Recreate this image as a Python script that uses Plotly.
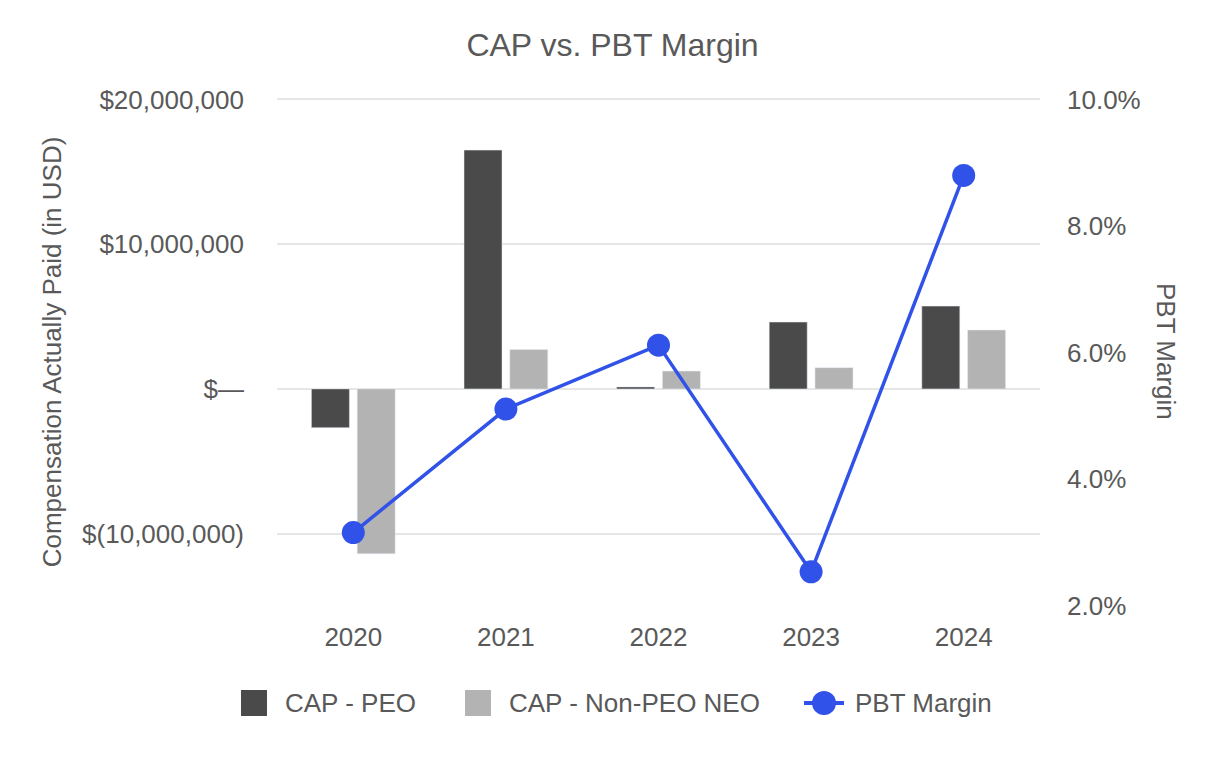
import plotly.graph_objects as go

years = ["2020", "2021", "2022", "2023", "2024"]
cap_peo = [-2.68e6, 16.5e6, 0.14e6, 4.62e6, 5.72e6]
cap_non_peo = [-11.39e6, 2.72e6, 1.23e6, 1.47e6, 4.07e6]
pbt_margin = [3.16, 5.11, 6.12, 2.54, 8.8]

left_tickvals = [-10e6, 0, 10e6, 20e6]
left_ticktext = ["$(10,000,000)", "$\u2014", "$10,000,000", "$20,000,000"]
right_tickvals = [2, 4, 6, 8, 10]
right_ticktext = ["2.0%", "4.0%", "6.0%", "8.0%", "10.0%"]

series_names = ["CAP - PEO", "CAP - Non-PEO NEO", "PBT Margin"]
colors = ["#4a4a4a", "#b3b3b3", "#3152e8"]

FONT = "Liberation Sans, Arial, sans-serif"
TXT = "#595959"

W, H = 1218, 752
ML, MR, MT, MB = 269, 186, 90, 154
PW, PH = W - ML - MR, H - MT - MB


def px(x):
    return (x - ML) / PW


def py(y):
    return 1 - (y - MT) / PH


fig = go.Figure()
fig.add_trace(go.Bar(x=years, y=cap_peo, name=series_names[0], marker_color=colors[0],
                     showlegend=False))
fig.add_trace(go.Bar(x=years, y=cap_non_peo, name=series_names[1], marker_color=colors[1],
                     showlegend=False))
fig.add_trace(go.Scatter(x=years, y=pbt_margin, name=series_names[2], yaxis="y2",
                         mode="lines+markers", showlegend=False,
                         line=dict(color=colors[2], width=3.5),
                         marker=dict(color=colors[2], size=23)))

# custom legend (larger swatches than plotly's native legend allows)
ly = 695
shapes = [
    dict(type="rect", xref="paper", yref="paper", x0=px(233), x1=px(259),
         y0=py(ly + 13), y1=py(ly - 13), fillcolor=colors[0], line=dict(width=0)),
    dict(type="rect", xref="paper", yref="paper", x0=px(457), x1=px(483),
         y0=py(ly + 13), y1=py(ly - 13), fillcolor=colors[1], line=dict(width=0)),
    dict(type="line", xref="paper", yref="paper", x0=px(796), x1=px(836),
         y0=py(ly), y1=py(ly), line=dict(color=colors[2], width=4)),
    dict(type="circle", xref="paper", yref="paper", x0=px(804), x1=px(828),
         y0=py(ly + 12), y1=py(ly - 12), fillcolor=colors[2], line=dict(width=0)),
]
annotations = [
    dict(text=series_names[0], x=px(275), y=py(ly), xref="paper", yref="paper",
         xanchor="left", yanchor="middle", showarrow=False, font=dict(size=26, color=TXT)),
    dict(text=series_names[1], x=px(499), y=py(ly), xref="paper", yref="paper",
         xanchor="left", yanchor="middle", showarrow=False, font=dict(size=26, color=TXT)),
    dict(text=series_names[2], x=px(845), y=py(ly), xref="paper", yref="paper",
         xanchor="left", yanchor="middle", showarrow=False, font=dict(size=26, color=TXT)),
    dict(text="PBT Margin", textangle=90, xref="paper", yref="paper",
         x=px(1158), y=py(343), xanchor="center", yanchor="middle", showarrow=False,
         font=dict(size=26, color=TXT)),
]

fig.update_layout(
    width=W, height=H,
    paper_bgcolor="white", plot_bgcolor="white",
    font=dict(family=FONT, size=26, color=TXT),
    margin=dict(l=ML, r=MR, t=MT, b=MB),
    title=dict(text="CAP vs. PBT Margin", x=(612.5 - 8) / W, xanchor="center",
               y=1 - 37 / H, yanchor="middle", font=dict(size=32, color=TXT)),
    barmode="group", bargap=0.4, bargroupgap=0.17,
    showlegend=False,
    xaxis=dict(showgrid=False, zeroline=False, showline=False, ticks="",
               ticklabelstandoff=13, tickfont=dict(size=26)),
    yaxis=dict(range=[-15e6, 20.1e6], tickvals=left_tickvals, ticktext=left_ticktext,
               showgrid=True, gridcolor="#e6e6e6", gridwidth=2, zeroline=False,
               showline=False, ticks="", ticklabelstandoff=32,
               title=dict(text="Compensation Actually Paid (in USD)", standoff=12,
                          font=dict(size=26, color=TXT))),
    yaxis2=dict(range=[2, 10 + 0.1 / 35 * 8], overlaying="y", side="right",
                tickvals=right_tickvals, ticktext=right_ticktext, showgrid=False,
                zeroline=False, showline=False, ticks="", ticklabelstandoff=26,
                tickfont=dict(size=26)),
    shapes=shapes,
    annotations=annotations,
)

fig.write_html("out.html")
